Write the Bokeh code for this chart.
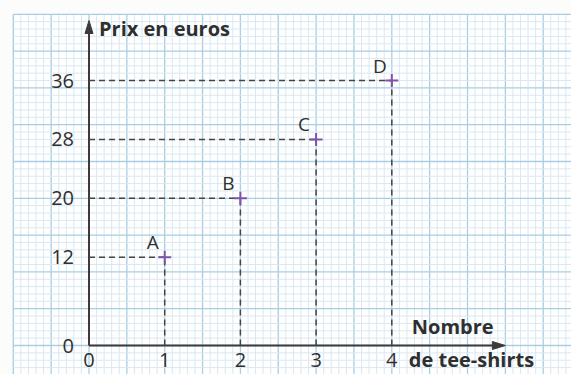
import numpy as np
from bokeh.plotting import figure
from bokeh.models import Range1d, FixedTicker
from bokeh.core.properties import value
from bokeh.embed import file_html
from bokeh.resources import INLINE

# ---- data ----
points = ["A", "B", "C", "D"]
tee_shirts = [1, 2, 3, 4]
prix = [12, 20, 28, 36]
x_ticks = [0, 1, 2, 3, 4]
y_ticks = [0, 12, 20, 28, 36]
y_title = "Prix en euros"
x_title_top = "Nombre"
x_title_bottom = "de tee-shirts"

# ---- style ----
FONT = "Open Sans"
TEXT = "#2f2f2f"
AXIS = "#3b3b3b"
MAJOR = "#a9cde3"
MINOR = "#d9e8f2"
PURPLE = "#7e55aa"

W, H = 571, 374
ORIGIN_X, ORIGIN_Y = 88.5, 345.0   # pixel position of (0, 0)
PX_X = 75.7    # pixels per tee-shirt
PX_Y = 7.36    # pixels per euro

p = figure(width=W, height=H,
           x_range=Range1d(-ORIGIN_X / PX_X, (W - ORIGIN_X) / PX_X),
           y_range=Range1d(-(H - ORIGIN_Y) / PX_Y, ORIGIN_Y / PX_Y),
           output_backend="svg", toolbar_location=None, min_border=0)
p.background_fill_color = "#fcfcfb"
p.border_fill_color = "#fcfcfb"
p.outline_line_color = None
p.grid.visible = False

# ---- graph paper ----
gx0, gx1, gy0, gy1 = -1.0, 6.5, -6.0, 45.0
p.quad(left=[gx0], right=[gx1], bottom=[gy0], top=[gy1], fill_color="#ffffff", line_color=None)
xs = np.round(np.arange(gx0, gx1 + 1e-9, 0.1), 3)
ys = np.arange(gy0, gy1 + 1e-9, 1.0)
is_major_x = np.isclose(np.round(xs * 2) / 2, xs)
is_major_y = (ys % 5) == 0
for mask, color, width in ((~is_major_x, MINOR, 1), (is_major_x, MAJOR, 1.3)):
    p.segment(x0=xs[mask], y0=gy0, x1=xs[mask], y1=gy1, line_color=color, line_width=width)
for mask, color, width in ((~is_major_y, MINOR, 1), (is_major_y, MAJOR, 1.3)):
    p.segment(x0=gx0, y0=ys[mask], x1=gx1, y1=ys[mask], line_color=color, line_width=width)

# ---- axes (real axes pinned at 0, labels only) ----
p.xaxis.fixed_location = 0
p.yaxis.fixed_location = 0
p.xaxis.ticker = FixedTicker(ticks=x_ticks)
p.yaxis.ticker = FixedTicker(ticks=y_ticks)
for ax in (p.xaxis, p.yaxis):
    ax.axis_line_color = None
    ax.major_tick_line_color = None
    ax.minor_tick_line_color = None
    ax.major_label_text_font = FONT
    ax.major_label_text_font_size = "20px"
    ax.major_label_text_color = TEXT
p.xaxis.major_label_standoff = 1
p.yaxis.major_label_standoff = 9

x_end = 5.5
y_end = (ORIGIN_Y - 20) / PX_Y
p.segment(x0=[0], y0=[0], x1=[x_end - 6 / PX_X], y1=[0], line_color=AXIS, line_width=2)
p.segment(x0=[0], y0=[0], x1=[0], y1=[y_end - 6 / PX_Y], line_color=AXIS, line_width=2)
hl, hw = 13, 4
p.patch(x=[x_end, x_end - hl / PX_X, x_end - hl / PX_X],
        y=[0, hw / PX_Y, -hw / PX_Y], fill_color=AXIS, line_color=AXIS)
p.patch(x=[0, -hw / PX_X, hw / PX_X],
        y=[y_end, y_end - hl / PX_Y, y_end - hl / PX_Y], fill_color=AXIS, line_color=AXIS)

# ---- dashed guides ----
zeros = [0] * len(prix)
p.segment(x0=zeros, y0=prix, x1=tee_shirts, y1=prix, line_color="#454545",
          line_width=1.5, line_dash="6 4")
p.segment(x0=tee_shirts, y0=zeros, x1=tee_shirts, y1=prix, line_color="#454545",
          line_width=1.5, line_dash="6 4")

# ---- points ----
p.scatter(x=tee_shirts, y=prix, marker="cross", size=13, line_color=PURPLE, line_width=2)
p.text(x=tee_shirts, y=prix, text=points, x_offset=-12, y_offset=-15,
       text_align="center", text_baseline="middle", text_font=value(FONT),
       text_font_size="19px", text_color=TEXT)

# ---- titles ----
p.text(x=[0], y=[y_end], text=[y_title], x_offset=10, y_offset=8,
       text_align="left", text_baseline="middle", text_font=value(FONT),
       text_font_size="20px", text_font_style="bold", text_color=TEXT)
p.text(x=[x_ticks[-1]], y=[0], text=[x_title_top], x_offset=20, y_offset=-19,
       text_align="left", text_baseline="middle", text_font=value(FONT),
       text_font_size="20px", text_font_style="bold", text_color=TEXT)
p.text(x=[x_ticks[-1]], y=[0], text=[x_title_bottom], x_offset=17, y_offset=14,
       text_align="left", text_baseline="middle", text_font=value(FONT),
       text_font_size="20px", text_font_style="bold", text_color=TEXT)

open("out.html", "w").write(file_html(p, INLINE))
